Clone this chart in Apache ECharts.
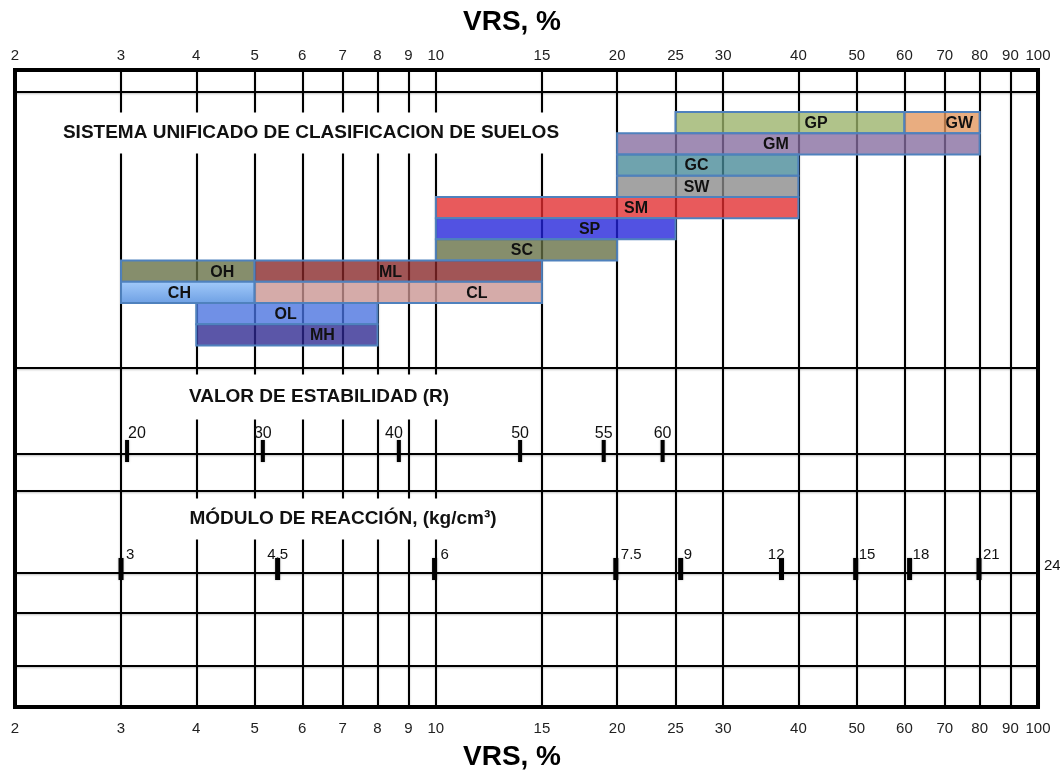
<!DOCTYPE html>
<html>
<head>
<meta charset="utf-8">
<title>VRS - clasificación de suelos</title>
<script src="https://cdn.jsdelivr.net/npm/echarts@6/dist/echarts.min.js"></script>
<style>
html, body { margin: 0; padding: 0; background: #fff; }
#chart { width: 1060px; height: 771px; }
</style>
</head>
<body>
<div id="chart"></div>
<script>
// VRS (%) ticks of the log axis
var vrsTicks = [2, 3, 4, 5, 6, 7, 8, 9, 10, 15, 20, 25, 30, 40, 50, 60, 70, 80, 90, 100];

// sistema unificado de clasificacion de suelos, ranges in VRS %
var soilNames   = ['GP', 'GW', 'GM', 'GC', 'SW', 'SM', 'SP', 'SC', 'OH', 'ML', 'CH', 'CL', 'OL', 'MH'];
var soilFrom    = [25, 60, 20, 20, 20, 10, 10, 10, 3, 5, 3, 5, 4, 4];
var soilTo      = [60, 80, 80, 40, 40, 40, 25, 20, 5, 15, 5, 15, 8, 8];
var soilRow     = [0, 0, 1, 2, 3, 4, 5, 6, 7, 7, 8, 8, 9, 10];
var soilLabelAt = [42.8, 74, 36.7, 27.1, 27.1, 21.5, 18, 13.9, 4.42, 8.41, 3.75, 11.7, 5.63, 6.48];

// valor de estabilidad R, read against VRS
var rLabels = ['20', '30', '40', '50', '55', '60'];
var rAtVrs  = [3.07, 5.16, 8.68, 13.8, 19.0, 23.8];

// modulo de reaccion k (kg/cm3), read against VRS
var kLabels = ['3', '4.5', '6', '7.5', '9', '12', '15', '18', '21', '24'];
var kAtVrs  = [3.0, 5.46, 9.95, 19.9, 25.5, 37.5, 49.8, 61.2, 79.8, 100];

var FONT = '"Liberation Sans", Arial, Helvetica, sans-serif';

var soilColor = {
    GP: '#b0c38a', GW: '#e9ad80', GM: '#a08cb4', GC: '#6fa3ae', SW: '#a3a3a3',
    SM: '#e85a5c', SP: '#5252e2', SC: '#868e6c', OH: '#868e6c', ML: '#a15556',
    CL: '#d5aba9', OL: '#7090e6', MH: '#5b56a8'
};

// colour that gives hex when laid over white with opacity a
function overWhite(hex, a) {
    var n = parseInt(hex.slice(1), 16);
    var c = [n >> 16, (n >> 8) & 255, n & 255].map(function (t) {
        return Math.max(0, Math.min(255, Math.round((t - 255 * (1 - a)) / a)));
    });
    return 'rgba(' + c.join(',') + ',' + a + ')';
}

function fillFor(name) {
    if (name === 'CH') {
        return new echarts.graphic.LinearGradient(0, 0, 0, 1, [
            {offset: 0, color: '#a3cbfb'},
            {offset: 1, color: '#6d9fe3'}
        ]);
    }
    return overWhite(soilColor[name], 0.78);
}

var rowNames = [];
soilRow.forEach(function (r, i) {
    rowNames[r] = rowNames[r] ? rowNames[r] + '/' + soilNames[i] : soilNames[i];
});

var bandData = soilNames.map(function (n, i) {
    return [soilFrom[i], soilTo[i], soilRow[i], soilLabelAt[i], n];
});

function renderBand(params, api) {
    var row = api.value(2);
    var p0 = api.coord([api.value(0), row]);
    var p1 = api.coord([api.value(1), row]);
    var h = api.size([0, 1], [10, row])[1];
    var name = bandData[params.dataIndex][4];
    var lx = api.coord([api.value(3), row])[0];
    return {
        type: 'group',
        children: [
            {
                type: 'rect',
                shape: {x: p0[0], y: p0[1] - h / 2, width: p1[0] - p0[0], height: h},
                style: {fill: fillFor(name), stroke: '#4f81bd', lineWidth: 2}
            },
            {
                type: 'text',
                x: lx, y: p0[1] + 1,
                style: {
                    text: name, fill: '#111', align: 'center', verticalAlign: 'middle',
                    fontFamily: FONT, fontWeight: 'bold', fontSize: 16
                }
            }
        ]
    };
}

// label placement next to the scale marks
var rAlign = ['left', 'center', 'right', 'center', 'center', 'center'];
var rShift = [1, 0, 4, 0, 0, 0];
var kAlign = ['left', 'center', 'left', 'left', 'left', 'right', 'left', 'left', 'left', 'left'];
var kShift = [5, 0, 6, 5, 3, 3, 3, 3, 4, 6];

var rData = rAtVrs.map(function (v, i) {
    return {
        value: [v, 381], name: rLabels[i],
        label: {align: rAlign[i], offset: [rShift[i], 2]}
    };
});
var kData = kAtVrs.map(function (v, i) {
    return {
        value: [v, 499], name: kLabels[i],
        symbolSize: i === kLabels.length - 1 ? 0 : [5, 22],
        label: {align: kAlign[i], offset: [kShift[i], 4]}
    };
});

var lineStyle = {color: '#000', width: 2, shadowColor: 'rgba(0,0,0,0.25)', shadowBlur: 2, shadowOffsetY: 1};

function vrsAxis(pos, margin) {
    return {
        gridIndex: 0, type: 'log', position: pos, min: 2, max: 100,
        axisLine: {show: false},
        axisTick: {show: false, customValues: vrsTicks},
        axisLabel: {customValues: vrsTicks, margin: margin, fontSize: 15, color: '#222', fontFamily: FONT},
        splitLine: {show: pos === 'bottom', lineStyle: lineStyle}
    };
}

var chart = echarts.init(document.getElementById('chart'));
var option = {
    animation: false,
    backgroundColor: '#fff',
    grid: [
        {left: 15, right: 22, top: 70, bottom: 64, show: true, borderColor: '#000', borderWidth: 4},
        {left: 15, right: 22, top: 112, height: 233.5}
    ],
    xAxis: [
        vrsAxis('bottom', 14),
        vrsAxis('top', 7),
        {gridIndex: 1, type: 'log', min: 2, max: 100, show: false}
    ],
    yAxis: [
        {
            gridIndex: 0, type: 'value', inverse: true, min: 0, max: 637,
            axisLine: {show: false}, axisLabel: {show: false},
            axisTick: {show: false, customValues: [22, 298, 384, 421, 503, 543, 596]},
            splitLine: {show: true, lineStyle: lineStyle}
        },
        {gridIndex: 1, type: 'category', inverse: true, data: rowNames, show: false}
    ],
    graphic: [
        {type: 'text', x: 512, y: 22, z: 10, style: {text: 'VRS, %', align: 'center', verticalAlign: 'middle', fontFamily: FONT, fontWeight: 'bold', fontSize: 28, fill: '#000'}},
        {type: 'text', x: 512, y: 757, z: 10, style: {text: 'VRS, %', align: 'center', verticalAlign: 'middle', fontFamily: FONT, fontWeight: 'bold', fontSize: 28, fill: '#000'}},
        {type: 'text', x: 311, y: 133, z: 10, style: {text: 'SISTEMA UNIFICADO DE CLASIFICACION DE SUELOS', align: 'center', verticalAlign: 'middle', fontFamily: FONT, fontWeight: 'bold', fontSize: 19, fill: '#111', backgroundColor: '#fff', padding: [11, 18]}},
        {type: 'text', x: 319, y: 397, z: 10, style: {text: 'VALOR DE ESTABILIDAD (R)', align: 'center', verticalAlign: 'middle', fontFamily: FONT, fontWeight: 'bold', fontSize: 19, fill: '#111', backgroundColor: '#fff', padding: [13, 26]}},
        {type: 'text', x: 343, y: 519, z: 10, style: {text: 'MÓDULO DE REACCIÓN, (kg/cm³)', align: 'center', verticalAlign: 'middle', fontFamily: FONT, fontWeight: 'bold', fontSize: 19, fill: '#111', backgroundColor: '#fff', padding: [11, 26]}}
    ],
    series: [
        {
            type: 'custom', xAxisIndex: 2, yAxisIndex: 1, silent: true,
            renderItem: renderBand,
            encode: {x: [0, 1, 3], y: 2},
            data: bandData
        },
        {
            type: 'scatter', xAxisIndex: 0, yAxisIndex: 0, silent: true,
            symbol: 'rect', symbolSize: [4, 22],
            itemStyle: {color: '#000', opacity: 1, shadowColor: 'rgba(0,0,0,0.3)', shadowBlur: 2},
            label: {show: true, position: 'top', distance: 0, formatter: '{b}', fontSize: 16, color: '#111', fontFamily: FONT},
            data: rData
        },
        {
            type: 'scatter', xAxisIndex: 0, yAxisIndex: 0, silent: true,
            symbol: 'rect',
            itemStyle: {color: '#000', opacity: 1, shadowColor: 'rgba(0,0,0,0.3)', shadowBlur: 2},
            label: {show: true, position: 'top', distance: 0, formatter: '{b}', fontSize: 15, color: '#111', fontFamily: FONT},
            data: kData
        }
    ]
};
chart.setOption(option);
</script>
</body>
</html>
